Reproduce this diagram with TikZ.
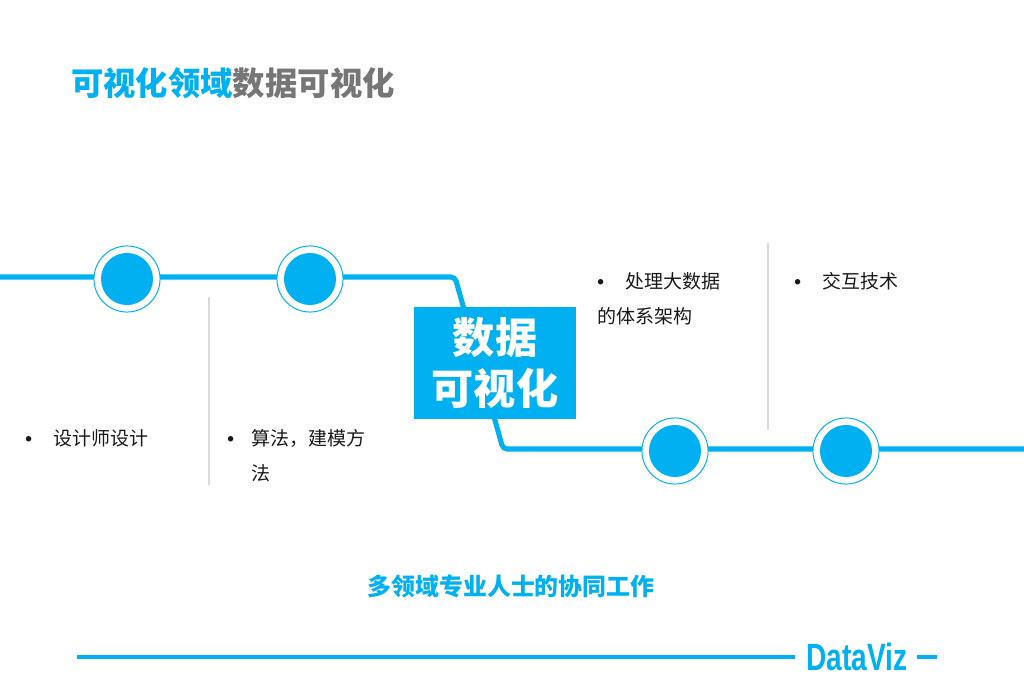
\documentclass[tikz,border=0pt]{standalone}
\usepackage{fontspec}
\usepackage{tikz}
\newfontfamily\cjk{Noto Sans CJK SC}
\newfontfamily\dvfont{Liberation Sans}
\definecolor{skyb}{RGB}{0,176,240}
\definecolor{tgray}{RGB}{118,118,118}
\definecolor{sepg}{RGB}{217,217,217}
\tikzset{
  track/.style={draw=skyb,line width=3.6pt,rounded corners=3pt},
  ring/.style={circle,draw=skyb,line width=0.7pt,fill=white,minimum size=47pt,inner sep=0pt},
  dot/.style={circle,fill=skyb,minimum size=37pt,inner sep=0pt},
  hubbox/.style={fill=skyb,text=white,minimum width=115pt,minimum height=80pt,align=center,
    font=\cjk\bfseries\fontsize{30}{34}\selectfont},
  item/.style={anchor=west,inner sep=0pt,align=left,text=black!90,
    font=\cjk\fontsize{13.5}{24.9}\selectfont},
  sepline/.style={draw=sepg,line width=0.8pt},
  foot/.style={draw=skyb,line width=2.2pt},
}
\newcommand{\bul}{\makebox[19.9pt][l]{\dvfont\bfseries •}}

\begin{document}
\begin{tikzpicture}[x=0.025cm,y=-0.025cm,every node/.style={font=\cjk}]
\useasboundingbox (0,0) rectangle (1024,682);
% title
\node[anchor=west,inner sep=0pt,font=\cjk\bfseries\fontsize{23}{26}\selectfont] (title) at (71,83)
  {\textcolor{skyb}{可视化领域}\textcolor{tgray}{数据可视化}};
% timeline
\coordinate (l0) at (0,277);
\coordinate (k1) at (455,277);
\coordinate (k2) at (503,449);
\coordinate (l1) at (1024,449);
\draw[track] (l0) -- (k1) -- (k2) -- (l1);
\node[ring] (r1) at (127,279) {};
\node[ring] (r2) at (310,279) {};
\node[ring] (r3) at (675,451) {};
\node[ring] (r4) at (846,451) {};
\node[dot] (c1) at (r1) {};
\node[dot] (c2) at (r2) {};
\node[dot] (c3) at (r3) {};
\node[dot] (c4) at (r4) {};
\node[hubbox] (hub) at (495,363) {数据\\[2pt]可视化};
% separators
\coordinate (s1a) at (209,297);
\coordinate (s1b) at (209,485);
\coordinate (s2a) at (768,243);
\coordinate (s2b) at (768,430);
\draw[sepline] (s1a) -- (s1b);
\draw[sepline] (s2a) -- (s2b);
% items
\node[item] (t1) at (25,438) {\bul 设计师设计};
\node[item] (t2) at (227,456) {\makebox[17.5pt][l]{\dvfont\bfseries •}算法，建模方\\\hspace*{17.5pt}法};
\node[item] (t3) at (597,299) {\bul 处理大数据\\的体系架构};
\node[item] (t4) at (794,281) {\bul 交互技术};
% caption and footer
\node[font=\cjk\bfseries\fontsize{17}{20}\selectfont,text=skyb] (cap) at (511,586) {多领域专业人士的协同工作};
\node[anchor=west,inner sep=0pt,text=skyb,font=\dvfont\bfseries\fontsize{27}{30}\selectfont] (dv) at (806,657)
  {\scalebox{0.74}[1]{DataViz}};
\coordinate (b0) at (77,657);
\coordinate (b1) at (795,657);
\coordinate (d0) at (917,657);
\coordinate (d1) at (937,657);
\draw[foot] (b0) -- (b1);
\draw[foot] (d0) -- (d1);
\end{tikzpicture}
\end{document}
